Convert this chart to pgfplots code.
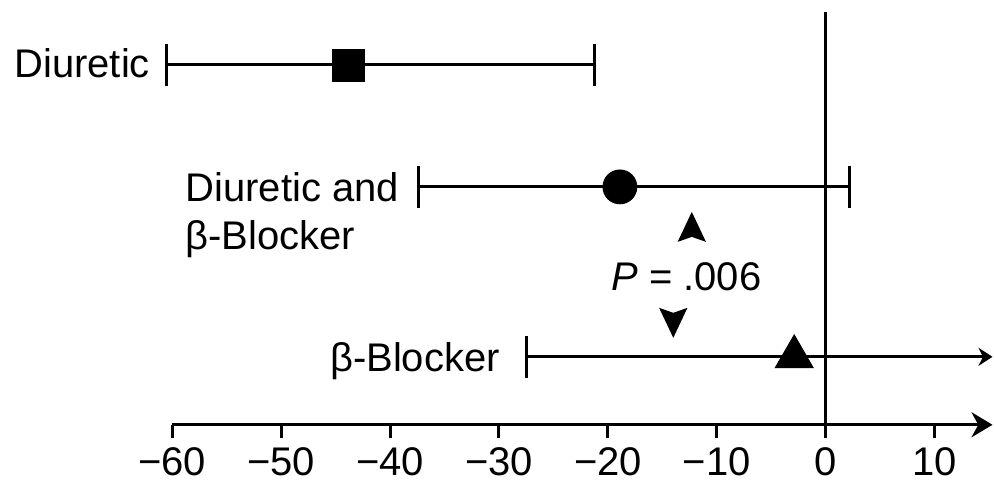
\documentclass[border=0pt]{standalone}
\usepackage{fontspec}
\setmainfont{Liberation Sans}
\usepackage{pgfplots}
\pgfplotsset{compat=1.18}
\usetikzlibrary{arrows.meta}

\newcommand\lblfont{\fontsize{20}{24}\selectfont}

\begin{document}
\begin{tikzpicture}
\begin{axis}[
  x=5.45pt, y=0.5pt,
  xmin=-60, xmax=15.3, ymin=0, ymax=413,
  axis x line*=bottom, axis y line=none,
  x axis line style={line width=1.5pt, -{Stealth[length=10.5pt,width=12.5pt]}},
  xtick={-60,-50,...,10},
  xticklabels={−60,−50,−40,−30,−20,−10,0,10},
  xtick align=outside,
  major tick length=6.5pt,
  every tick/.style={line width=1.5pt, black},
  tick label style={font=\lblfont, yshift=-1.5pt},
  clip=false,
]
% reference line at zero difference
\addplot[line width=1.5pt, black] coordinates {(0,-13) (0,413)};

% confidence intervals
\addplot[line width=1.5pt, black] coordinates {(-60.5,360) (-21.2,360)};
\addplot[line width=1.5pt, black] coordinates {(-37.4,238) (2.2,238)};
\addplot[line width=1.5pt, black, -{Stealth[length=7pt,width=9pt]}] coordinates {(-27.5,68) (15.3,68)};

% interval end caps
\addplot[only marks, mark=|, mark size=10.5pt, line width=1.5pt, black]
  coordinates {(-60.5,360) (-21.2,360) (-37.4,238) (2.2,238) (-27.5,68)};

% point estimates
\addplot[only marks, mark=square*, mark size=8pt, black] coordinates {(-43.8,360)};
\addplot[only marks, mark=*, mark size=8.5pt, black] coordinates {(-18.9,238)};
\addplot[only marks, mark=triangle*, mark size=11pt, black] coordinates {(-2.9,68)};

% row labels
\node[anchor=base east, inner sep=0pt, font=\lblfont] at (axis cs:-62.0,347) {Diuretic};
\node[anchor=base west, inner sep=0pt, font=\lblfont] at (axis cs:-58.8,223) {Diuretic and};
\node[anchor=base west, inner sep=0pt, font=\lblfont] at (axis cs:-58.8,175) {β-Blocker};
\node[anchor=base east, inner sep=0pt, font=\lblfont] at (axis cs:-29.9,53) {β-Blocker};

% comparison annotation with its two arrowheads
\node[anchor=base, inner sep=0pt, font=\lblfont] at (axis cs:-12.8,134) {\textit{P} = .006};
\fill[black] (axis cs:-12.3,213) -- (axis cs:-13.6,183) -- (axis cs:-12.3,188)
  -- (axis cs:-11.0,183) -- cycle;
\fill[black] (axis cs:-14.0,87) -- (axis cs:-15.3,117) -- (axis cs:-14.0,112)
  -- (axis cs:-12.7,117) -- cycle;

% picture frame
\path (axis cs:-75.8,-57) rectangle (axis cs:15.4,425);
\end{axis}
\end{tikzpicture}
\end{document}
